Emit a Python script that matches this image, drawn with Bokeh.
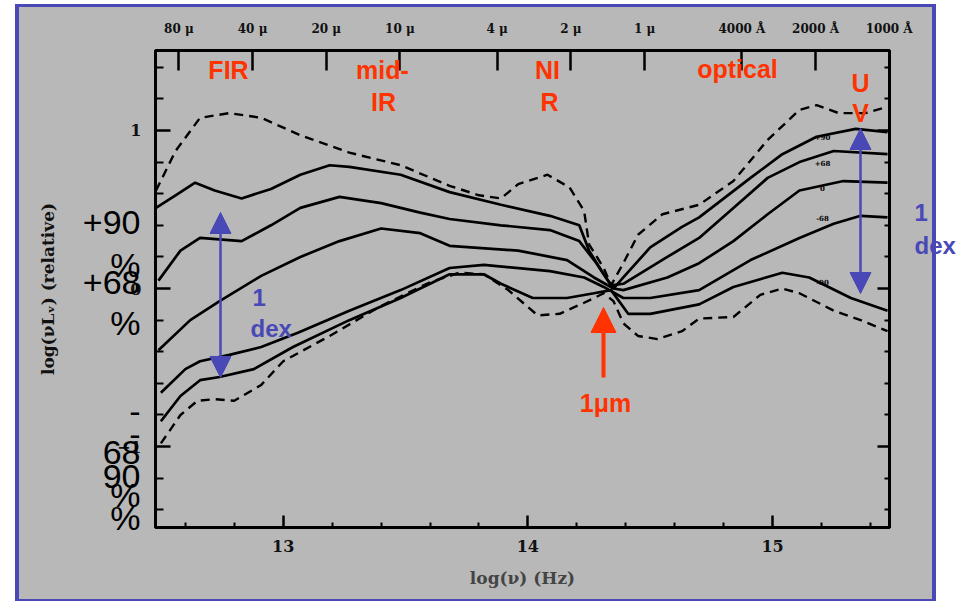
import math
from bokeh.plotting import figure
from bokeh.models import (LinearAxis, FixedTicker, Range1d, Label, Arrow, NormalHead)
from bokeh.embed import file_html
from bokeh.resources import INLINE

# ---------------- data ----------------
# log(nu) [Hz] and log(nu L_nu) (relative) for each envelope / curve
dhi_x = [12.48, 12.56, 12.66, 12.78, 12.91, 13.07, 13.27, 13.48, 13.68, 13.80, 13.89, 13.96,
         14.08, 14.17, 14.23, 14.25, 14.31, 14.34, 14.39, 14.45, 14.55, 14.70, 14.84, 14.98,
         15.11, 15.18, 15.27, 15.38, 15.47]
dhi_y = [0.62, 0.87, 1.08, 1.11, 1.08, 0.97, 0.86, 0.78, 0.65, 0.59, 0.57, 0.66,
         0.72, 0.64, 0.49, 0.28, 0.13, 0.02, 0.16, 0.34, 0.47, 0.53, 0.68, 0.94,
         1.13, 1.16, 1.11, 1.11, 1.15]

sa_x = [12.48, 12.56, 12.64, 12.72, 12.83, 12.95, 13.07, 13.19, 13.27, 13.48, 13.68, 13.89,
        14.09, 14.21, 14.25, 14.31, 14.35, 14.39, 14.50, 14.63, 14.70, 14.91, 15.04, 15.18,
        15.34, 15.47]
sa_y = [0.51, 0.59, 0.67, 0.62, 0.57, 0.63, 0.72, 0.78, 0.77, 0.72, 0.61, 0.53,
        0.46, 0.40, 0.24, 0.09, 0.00, 0.07, 0.26, 0.39, 0.45, 0.70, 0.85, 0.96,
        1.01, 0.99]

sb_x = [12.49, 12.58, 12.66, 12.83, 12.95, 13.07, 13.23, 13.40, 13.56, 13.68, 13.89, 14.09,
        14.21, 14.28, 14.34, 14.39, 14.57, 14.70, 14.84, 14.98, 15.11, 15.25, 15.47]
sb_y = [0.05, 0.24, 0.32, 0.30, 0.40, 0.51, 0.58, 0.54, 0.48, 0.44, 0.40, 0.37,
        0.30, 0.16, 0.02, 0.03, 0.20, 0.32, 0.51, 0.70, 0.80, 0.87, 0.85]

sc_x = [12.49, 12.62, 12.74, 12.91, 13.07, 13.23, 13.40, 13.56, 13.68, 13.96, 14.16, 14.27,
        14.35, 14.39, 14.57, 14.70, 14.84, 14.98, 15.11, 15.29, 15.47]
sc_y = [-0.39, -0.20, -0.08, 0.08, 0.20, 0.30, 0.38, 0.35, 0.27, 0.24, 0.18, 0.07,
        0.00, -0.01, 0.07, 0.16, 0.30, 0.47, 0.62, 0.68, 0.67]

sd_x = [12.50, 12.60, 12.66, 12.78, 12.91, 13.06, 13.27, 13.48, 13.68, 13.82, 14.09, 14.23,
        14.31, 14.39, 14.50, 14.70, 14.91, 15.11, 15.25, 15.36, 15.47]
sd_y = [-0.66, -0.51, -0.46, -0.42, -0.37, -0.28, -0.14, -0.01, 0.13, 0.15, 0.11, 0.07,
        0.01, -0.06, -0.06, -0.01, 0.18, 0.32, 0.41, 0.46, 0.45]

se_x = [12.50, 12.58, 12.66, 12.74, 12.88, 13.04, 13.27, 13.48, 13.68, 13.82, 13.89, 14.02,
        14.16, 14.27, 14.34, 14.41, 14.50, 14.70, 14.84, 15.04, 15.15, 15.32, 15.47]
se_y = [-0.84, -0.68, -0.58, -0.56, -0.51, -0.37, -0.20, -0.06, 0.09, 0.09, 0.03, -0.06,
        -0.06, -0.03, -0.01, -0.16, -0.16, -0.10, 0.01, 0.10, 0.07, -0.06, -0.14]

dlo_x = [12.50, 12.58, 12.65, 12.72, 12.80, 12.91, 13.00, 13.19, 13.40, 13.60, 13.72, 13.82,
         13.92, 14.04, 14.13, 14.23, 14.31, 14.35, 14.39, 14.45, 14.53, 14.63, 14.70, 14.84,
         14.95, 15.04, 15.11, 15.25, 15.36, 15.47]
dlo_y = [-0.98, -0.80, -0.71, -0.70, -0.71, -0.61, -0.46, -0.30, -0.11, 0.04, 0.10, 0.09,
         -0.01, -0.17, -0.16, -0.09, -0.03, -0.08, -0.22, -0.30, -0.32, -0.27, -0.19, -0.18,
         -0.04, 0.00, -0.03, -0.14, -0.20, -0.27]

# axis ticks / labels
x_major = [13, 14, 15]
x_minor = [12.6, 12.8, 13.2, 13.4, 13.6, 13.8, 14.2, 14.4, 14.6, 14.8, 15.2, 15.4]
y_major = [-1, 0, 1]
y_minor = [-1.4, -1.2, -0.8, -0.6, -0.4, -0.2, 0.2, 0.4, 0.6, 0.8, 1.2, 1.4]
top_wavelength_um = [80, 40, 20, 10, 4, 2, 1, 0.4, 0.2, 0.1]
top_labels = ["80 μ", "40 μ", "20 μ", "10 μ", "4 μ", "2 μ", "1 μ", "4000 Å", "2000 Å", "1000 Å"]
C_UM_PER_S = 2.998e14

# slide overlay texts
region_texts = ["FIR", "mid-", "IR", "NI", "R", "optical", "U", "V", "1μm"]
pct_texts = ["+90", "%", "+68", "%", "-", "-", "68", "90", "%", "%"]
dex_texts = ["1", "dex"]
curve_tags = ["+90", "+68", "0", "-68", "-90"]

# ---------------- style / layout ----------------
GRAY = "#B8B8B8"
BLUE = "#4848B6"
RED = "#FF3300"
XR = (12.478, 15.478)
YR = (-1.512, 1.506)
W, H = 975, 601
FL, FR, FT, FB = 155, 889, 50, 527   # pixel edges of the plot frame


def dx(px):
    return XR[0] + (px - FL) * (XR[1] - XR[0]) / (FR - FL)


def dy(py):
    return round(YR[1] - (py - FT) * (YR[1] - YR[0]) / (FB - FT), 5)


slide_bg = ("linear-gradient(#B8B8B8,#B8B8B8) 19px 7px / 913px 592px no-repeat, "
            "linear-gradient(#4848B6,#4848B6) 15px 4px / 921px 597px no-repeat, #ffffff")

p = figure(width=W, height=H, x_range=Range1d(*XR), y_range=Range1d(*YR),
           output_backend="svg", toolbar_location=None,
           min_border_left=FL, min_border_right=W - FR,
           min_border_top=FT, min_border_bottom=H - FB,
           background_fill_color=GRAY, border_fill_color="white", border_fill_alpha=0.0,
           outline_line_color="black", outline_line_width=3,
           styles={"background": slide_bg})
p.grid.visible = False

SERIF = "DejaVu Serif"


def style_axis(ax, tin, tmin, lab_size, standoff):
    ax.axis_line_width = 3
    ax.axis_line_color = "black"
    ax.major_tick_in = tin
    ax.major_tick_out = 0
    ax.minor_tick_in = tmin
    ax.minor_tick_out = 0
    ax.major_tick_line_width = 2.5
    ax.minor_tick_line_width = 2
    ax.major_label_text_font = SERIF
    ax.major_label_text_font_style = "bold"
    ax.major_label_text_font_size = lab_size
    ax.major_label_text_color = "#111111"
    ax.major_label_standoff = standoff


xa = p.xaxis[0]
xa.ticker = FixedTicker(ticks=x_major, minor_ticks=x_minor)
style_axis(xa, 12, 5, "16px", 12)
xa.axis_label = "log(ν) (Hz)"
xa.axis_label_text_font = SERIF
xa.axis_label_text_font_style = "bold"
xa.axis_label_text_font_size = "17px"
xa.axis_label_standoff = 13

ya = p.yaxis[0]
ya.ticker = FixedTicker(ticks=y_major, minor_ticks=y_minor)
style_axis(ya, 15, 8, "16px", 14)

# outer left axis: carries the slide's percentile notes and the y axis title
pct_py = [222, 264, 282, 322, 410, 433, 452, 476, 494, 517]
pct_ticks = [dy(v) for v in pct_py]
pa = LinearAxis(ticker=FixedTicker(ticks=pct_ticks),
                major_label_overrides={t: s for t, s in zip(pct_ticks, pct_texts)})
pa.axis_line_color = None
pa.major_tick_line_color = None
pa.minor_tick_line_color = None
pa.major_label_text_font = "Liberation Sans"
pa.major_label_text_font_size = "34px"
pa.major_label_text_color = "black"
pa.major_label_standoff = -33
pa.axis_label = "log(νLᵥ) (relative)"
pa.axis_label_text_font = SERIF
pa.axis_label_text_font_style = "bold"
pa.axis_label_text_font_size = "17px"
pa.axis_label_text_color = "#111111"
pa.axis_label_standoff = 22
p.add_layout(pa, "left")

top_ticks = [round(math.log10(C_UM_PER_S / w), 4) for w in top_wavelength_um]
ta = LinearAxis(ticker=FixedTicker(ticks=top_ticks),
                major_label_overrides={t: l for t, l in zip(top_ticks, top_labels)})
style_axis(ta, 20, 0, "12px", 15)
ta.minor_tick_line_color = None
p.add_layout(ta, "above")

ra = LinearAxis(ticker=FixedTicker(ticks=y_major, minor_ticks=y_minor))
style_axis(ra, 12, 5, "0px", 0)
ra.major_label_text_color = None
p.add_layout(ra, "right")

# outer right axis: the "1 dex" note beside the UV arrow
dex_ticks = [dy(212), dy(245)]
da = LinearAxis(ticker=FixedTicker(ticks=dex_ticks),
                major_label_overrides={t: s for t, s in zip(dex_ticks, dex_texts)})
da.axis_line_color = None
da.major_tick_line_color = None
da.minor_tick_line_color = None
da.major_label_text_font = "Liberation Sans"
da.major_label_text_font_style = "bold"
da.major_label_text_font_size = "24px"
da.major_label_text_color = BLUE
da.major_label_standoff = 19
p.add_layout(da, "right")

# ---------------- curves ----------------
DASH = "9 6"
p.line(dhi_x, dhi_y, line_color="black", line_width=2.4, line_dash=DASH)
for xs, ys in [(sa_x, sa_y), (sb_x, sb_y), (sc_x, sc_y), (sd_x, sd_y), (se_x, se_y)]:
    p.line(xs, ys, line_color="black", line_width=2.7)
p.line(dlo_x, dlo_y, line_color="black", line_width=2.4, line_dash=DASH)

# small curve tags near the UV end
for t, py in zip(curve_tags, [137, 162, 187, 218, 282]):
    p.add_layout(Label(x=dx(822), y=dy(py), text=t, text_font=SERIF, text_font_style="bold",
                       text_font_size="7px", text_align="center", text_baseline="middle",
                       text_color="black"))


# ---------------- slide annotations inside the frame ----------------
def lab(text, px, py, color, size, align="center"):
    p.add_layout(Label(x=dx(px), y=dy(py), text=text, text_font="Liberation Sans",
                       text_font_style="bold", text_font_size=size, text_color=color,
                       text_align=align, text_baseline="middle"))


for t, (px, py) in zip(region_texts, [(228, 70), (382, 70), (383, 101), (547, 70), (549, 101),
                                      (737, 69), (860, 82), (860, 113), (605, 402)]):
    lab(t, px, py, RED, "25px")

lab(dex_texts[0], 252, 297, BLUE, "24px", align="left")
lab(dex_texts[1], 250, 328, BLUE, "24px", align="left")

# arrows
p.add_layout(Arrow(end=NormalHead(size=25, fill_color=RED, line_color=RED),
                   x_start=dx(603), y_start=dy(377), x_end=dx(603), y_end=dy(307),
                   line_color=RED, line_width=4))
for ax_px, top_py, bot_py in [(220, 212, 377), (860, 128, 293)]:
    p.add_layout(Arrow(start=NormalHead(size=21, fill_color=BLUE, line_color=BLUE),
                       end=NormalHead(size=21, fill_color=BLUE, line_color=BLUE),
                       x_start=dx(ax_px), y_start=dy(bot_py), x_end=dx(ax_px), y_end=dy(top_py),
                       line_color=BLUE, line_width=2.5))

open("out.html", "w").write(file_html(p, INLINE))
